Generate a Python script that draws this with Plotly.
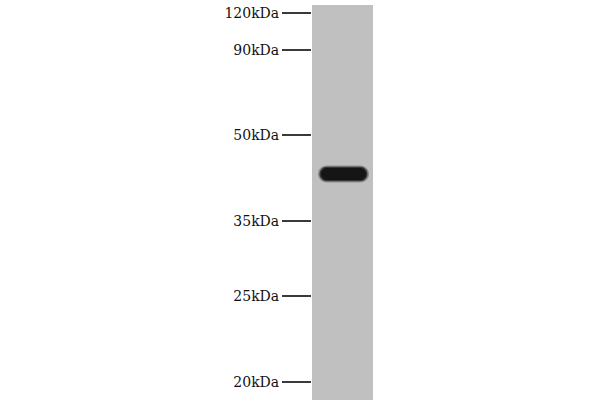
import plotly.graph_objects as go

# marker ladder: label and migration distance (px from top of image)
marker_labels = ["120kDa", "90kDa", "50kDa", "35kDa", "25kDa", "20kDa"]
marker_migration = [13, 50, 135, 221, 296, 382]

# single sample lane and its band
lanes = ["lane 1"]
lane_start = [5]
lane_end = [400]
band_migration = [174]


def stadium(x0, x1, yc, h):
  r = h / 2
  k = 0.55 * r
  return (f"M {x0 + r},{yc - r} L {x1 - r},{yc - r} "
          f"C {x1 - r + k},{yc - r} {x1},{yc - k} {x1},{yc} "
          f"C {x1},{yc + k} {x1 - r + k},{yc + r} {x1 - r},{yc + r} "
          f"L {x0 + r},{yc + r} "
          f"C {x0 + r - k},{yc + r} {x0},{yc + k} {x0},{yc} "
          f"C {x0},{yc - k} {x0 + r - k},{yc - r} {x0 + r},{yc - r} Z")


fig = go.Figure()
fig.add_trace(go.Bar(x=[342.5], y=[lane_end[0] - lane_start[0]], base=lane_start,
                     width=61, marker=dict(color="#c0c0c0", line=dict(width=0)),
                     hoverinfo="skip", name=lanes[0]))

shapes = []
for yc in band_migration:
  shapes.append(dict(type="path", path=stadium(318, 369, yc, 17), xref="x", yref="y",
                     fillcolor="rgba(40,40,40,0.35)", line=dict(width=0), layer="above"))
  shapes.append(dict(type="path", path=stadium(319.5, 367.5, yc, 14.5), xref="x", yref="y",
                     fillcolor="rgba(25,25,25,0.75)", line=dict(width=0), layer="above"))
  shapes.append(dict(type="path", path=stadium(321, 366, yc, 12), xref="x", yref="y",
                     fillcolor="#151515", line=dict(width=0), layer="above"))

# axes set up so data units match image pixels
fig.update_layout(
  width=600, height=400,
  margin=dict(l=312, r=227, t=0, b=0),
  paper_bgcolor="white", plot_bgcolor="white",
  showlegend=False, bargap=0,
  shapes=shapes,
  xaxis=dict(range=[312, 373], visible=False, fixedrange=True),
  yaxis=dict(range=[400, 0], tickmode="array", tickvals=marker_migration,
             ticktext=marker_labels, ticks="outside", ticklen=29, tickwidth=2,
             tickcolor="#3a3a3a", showgrid=False, zeroline=False, showline=False,
             tickfont=dict(family="DejaVu Serif", size=14, color="#111111"),
             ticklabeloverflow="allow", fixedrange=True),
)

fig.write_html("out.html", config={"displayModeBar": False},
               post_script="document.body.style.margin='0';")
